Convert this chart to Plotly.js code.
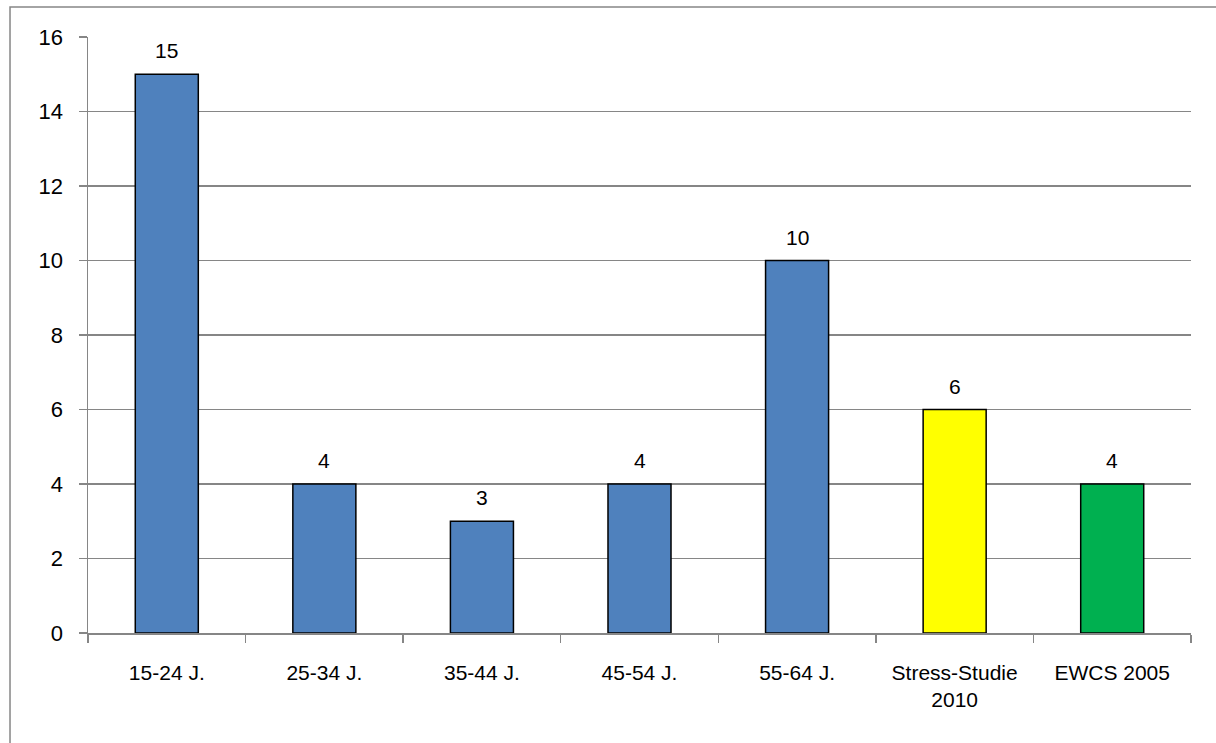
<!DOCTYPE html>
<html>
<head>
<meta charset="utf-8">
<script src="https://cdn.plot.ly/plotly-3.0.1.min.js"></script>
<style>
html,body{margin:0;padding:0;background:#fff;}
#chart{width:1216px;height:743px;}
</style>
</head>
<body>
<div id="chart"></div>
<script>
var categories = ["15-24 J.", "25-34 J.", "35-44 J.", "45-54 J.", "55-64 J.", "Stress-Studie<br>2010", "EWCS 2005"];
var values = [15, 4, 3, 4, 10, 6, 4];
var barColors = ["#4F81BD", "#4F81BD", "#4F81BD", "#4F81BD", "#4F81BD", "#FFFF00", "#00B050"];
var yTicks = [0, 2, 4, 6, 8, 10, 12, 14, 16];

var fontFam = "'Liberation Sans Narrow', 'Arial Narrow', 'Liberation Sans', Arial, sans-serif";

var trace = {
  type: "bar",
  x: categories,
  y: values,
  marker: {color: barColors, line: {color: "#000", width: 1.5}},
  hoverinfo: "x+y"
};

var annotations = categories.map(function (c, i) {
  return {
    x: c, y: values[i], xref: "x", yref: "y",
    text: String(values[i]), showarrow: false,
    yanchor: "bottom", yshift: 10,
    font: {family: fontFam, size: 21, color: "#000"}
  };
});

var layout = {
  width: 1216, height: 743,
  margin: {l: 88, r: 25, t: 37, b: 110},
  paper_bgcolor: "#fff", plot_bgcolor: "#fff",
  showlegend: false,
  bargap: 0.6,
  font: {family: fontFam, size: 21, color: "#000"},
  xaxis: {
    type: "category",
    tickson: "boundaries",
    ticks: "outside", ticklen: 8, tickcolor: "#868686", tickwidth: 1.5,
    showline: true, linecolor: "#868686", linewidth: 1.5,
    showgrid: false,
    ticklabelstandoff: 20,
    tickfont: {family: fontFam, size: 21, color: "#000"}
  },
  yaxis: {
    range: [0, 16],
    tickvals: yTicks,
    ticktext: yTicks.map(String),
    ticks: "outside", ticklen: 8, tickcolor: "#868686", tickwidth: 1.5,
    showline: true, linecolor: "#868686", linewidth: 1.5,
    showgrid: true, gridcolor: "#868686", gridwidth: 1.5,
    zeroline: false,
    ticklabelstandoff: 11,
    tickfont: {family: fontFam, size: 22, color: "#000"}
  },
  annotations: annotations,
  shapes: [{
    type: "rect", xref: "paper", yref: "paper",
    x0: -0.0707, x1: 1.2, y0: -0.3, y1: 1.0503,
    line: {color: "#868686", width: 1.5}, fillcolor: "rgba(0,0,0,0)", layer: "below"
  }]
};

Plotly.newPlot("chart", [trace], layout, {displayModeBar: false, staticPlot: true});
</script>
</body>
</html>
